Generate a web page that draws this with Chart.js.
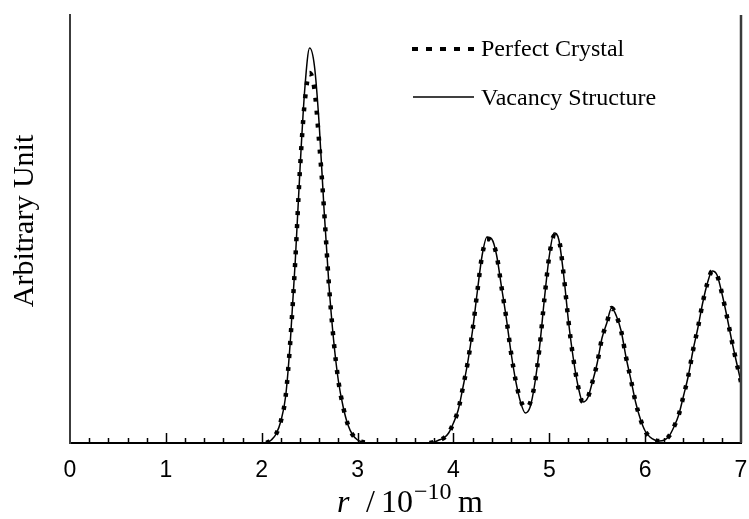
<!DOCTYPE html>
<html>
<head>
<meta charset="utf-8">
<script src="https://cdn.jsdelivr.net/npm/chart.js@4.4.0/dist/chart.umd.min.js"></script>
<style>
  html, body { margin: 0; padding: 0; background: #fff; overflow: hidden; }
  #wrap { width: 749px; height: 519px; }
</style>
</head>
<body>
<div id="wrap"><canvas id="rdfChart"></canvas></div>
<script>
// r in 1e-10 m
const rValues = [
  2.05, 2.10, 2.15, 2.20, 2.25, 2.30, 2.35, 2.40, 2.45, 2.50,
  2.55, 2.60, 2.65, 2.70, 2.75, 2.80, 2.85, 2.90, 2.95, 3.00,
  3.05, 3.10, 3.15, 3.20, 3.25, 3.30, 3.35, 3.40, 3.45, 3.50,
  3.55, 3.60, 3.65, 3.70, 3.75, 3.80, 3.85, 3.90, 3.95, 4.00,
  4.05, 4.10, 4.15, 4.20, 4.25, 4.30, 4.35, 4.40, 4.45, 4.50,
  4.55, 4.60, 4.65, 4.70, 4.75, 4.80, 4.85, 4.90, 4.95, 5.00,
  5.05, 5.10, 5.15, 5.20, 5.25, 5.30, 5.35, 5.40, 5.45, 5.50,
  5.55, 5.60, 5.65, 5.70, 5.75, 5.80, 5.85, 5.90, 5.95, 6.00,
  6.05, 6.10, 6.15, 6.20, 6.25, 6.30, 6.35, 6.40, 6.45, 6.50,
  6.55, 6.60, 6.65, 6.70, 6.75, 6.80, 6.85, 6.90, 6.95, 7.00
];

const perfectCrystal = [
  0, 3, 9, 22, 47, 104, 182, 275, 342, 370,
  354, 300, 234, 160, 103, 62, 36, 18, 8, 3,
  1, 0, null, null, null, null, null, null, null, null,
  null, null, null, null, 0, 1, 3, 5, 10, 20,
  33, 56, 81, 113, 152, 188, 204, 202, 188, 157,
  126, 91, 62, 43, 35, 40, 60, 97, 145, 187,
  207, 203, 168, 122, 85, 57, 41, 45, 61, 80,
  105, 120, 135, 127, 112, 86, 64, 41, 24, 12,
  6, 3, 2, 3, 7, 16, 28, 47, 67, 93,
  115, 140, 160, 172, 168, 150, 128, 104, 82, 61
];

const vacancyStructure = [
  0, 3, 9, 22, 47, 104, 182, 275, 355, 395,
  377, 318, 234, 160, 103, 62, 36, 18, 8, 3,
  1, 0, null, null, null, null, null, null, null, null,
  null, null, null, null, 0, 1, 3, 5, 10, 20,
  33, 56, 81, 113, 152, 188, 206, 204, 188, 157,
  126, 91, 62, 41, 30, 36, 60, 97, 145, 187,
  210, 203, 168, 122, 85, 57, 41, 45, 61, 80,
  105, 120, 135, 127, 112, 86, 64, 41, 24, 12,
  6, 3, 2, 3, 7, 16, 28, 47, 67, 93,
  115, 140, 160, 172, 168, 150, 128, 104, 82, 61
];

const xTickLabels = [0, 1, 2, 3, 4, 5, 6, 7];
const seriesNames = ['Perfect Crystal', 'Vacancy Structure'];
const yTitle = 'Arbitrary Unit';

function toPoints(ys) {
  return rValues.map(function(r, i) { return { x: r, y: ys[i] }; });
}

// inward ticks, right frame, legend and axis titles
const decorPlugin = {
  id: 'decor',
  afterDraw(chart) {
    const ctx = chart.ctx;
    const xs = chart.scales.x;
    const area = chart.chartArea;
    ctx.save();
    ctx.setLineDash([]);

    // right frame line
    const xr = xs.getPixelForValue(7);
    ctx.strokeStyle = '#3a3a3a';
    ctx.lineWidth = 2.5;
    ctx.beginPath();
    ctx.moveTo(xr, area.top);
    ctx.lineTo(xr, area.bottom);
    ctx.stroke();

    ctx.strokeStyle = '#000';
    ctx.lineWidth = 1.5;
    for (let i = 1; i < 35; i++) {
      const px = Math.round(xs.getPixelForValue(i * 0.2)) + 0.5;
      const len = (i % 5 === 0) ? 10 : 5;
      ctx.beginPath();
      ctx.moveTo(px, area.bottom);
      ctx.lineTo(px, area.bottom - len);
      ctx.stroke();
    }

    // legend
    ctx.lineWidth = 4;
    ctx.setLineDash([6, 8]);
    ctx.beginPath();
    ctx.moveTo(412, 49);
    ctx.lineTo(477, 49);
    ctx.stroke();
    ctx.setLineDash([]);
    ctx.lineWidth = 1.5;
    ctx.beginPath();
    ctx.moveTo(413, 97);
    ctx.lineTo(474, 97);
    ctx.stroke();

    ctx.fillStyle = '#000';
    ctx.font = '24px "Liberation Serif", "Times New Roman", serif';
    ctx.textAlign = 'left';
    ctx.textBaseline = 'alphabetic';
    ctx.fillText(seriesNames[0], 481, 56);
    ctx.fillText(seriesNames[1], 481, 105);

    // y title
    ctx.save();
    ctx.translate(33, 221);
    ctx.rotate(-Math.PI / 2);
    ctx.textAlign = 'center';
    ctx.font = '30px "Liberation Serif", "Times New Roman", serif';
    ctx.fillText(yTitle, 0, 0);
    ctx.restore();

    // x title: r / 10^-10 m
    const base = 512;
    ctx.textAlign = 'left';
    ctx.font = 'italic 32px "Liberation Serif", "Times New Roman", serif';
    ctx.fillText('r', 337, base);
    ctx.font = '32px "Liberation Serif", "Times New Roman", serif';
    ctx.fillText('/', 366, base);
    ctx.fillText('10', 381, base);
    ctx.font = '24px "Liberation Serif", "Times New Roman", serif';
    ctx.fillText('\u221210', 414, base - 13);
    ctx.font = '32px "Liberation Serif", "Times New Roman", serif';
    ctx.fillText('m', 458, base);

    ctx.restore();
  }
};

new Chart(document.getElementById('rdfChart'), {
  type: 'line',
  data: {
    datasets: [
      {
        label: seriesNames[0],
        data: toPoints(perfectCrystal),
        borderColor: '#000',
        borderWidth: 4.5,
        borderDash: [4, 9],
        pointRadius: 0,
        fill: false,
        spanGaps: false,
        cubicInterpolationMode: 'monotone'
      },
      {
        label: seriesNames[1],
        data: toPoints(vacancyStructure),
        borderColor: '#000',
        borderWidth: 1.5,
        pointRadius: 0,
        fill: false,
        spanGaps: false,
        cubicInterpolationMode: 'monotone'
      }
    ]
  },
  options: {
    responsive: true,
    maintainAspectRatio: false,
    animation: false,
    layout: { padding: { top: 15, left: 0, right: 8, bottom: 0 } },
    plugins: {
      legend: { display: false },
      tooltip: { enabled: false }
    },
    scales: {
      x: {
        type: 'linear',
        min: 0,
        max: 7,
        afterFit: function(scale) {
          scale.height = 76;
          scale.paddingLeft = 0;
          scale.paddingRight = 0;
        },
        afterBuildTicks: function(scale) {
          scale.ticks = xTickLabels.map(function(v) { return { value: v }; });
        },
        ticks: {
          autoSkip: false,
          maxRotation: 0,
          padding: 6,
          color: '#000',
          font: { family: '"Liberation Sans", Arial, sans-serif', size: 23 }
        },
        grid: { display: false },
        border: { display: true, color: '#000', width: 2 }
      },
      y: {
        min: 0,
        max: 428,
        afterFit: function(scale) { scale.width = 70; },
        ticks: { display: false },
        grid: { display: false },
        border: { display: true, color: '#3c3c3c', width: 2 }
      }
    }
  },
  plugins: [decorPlugin]
});
</script>
</body>
</html>
